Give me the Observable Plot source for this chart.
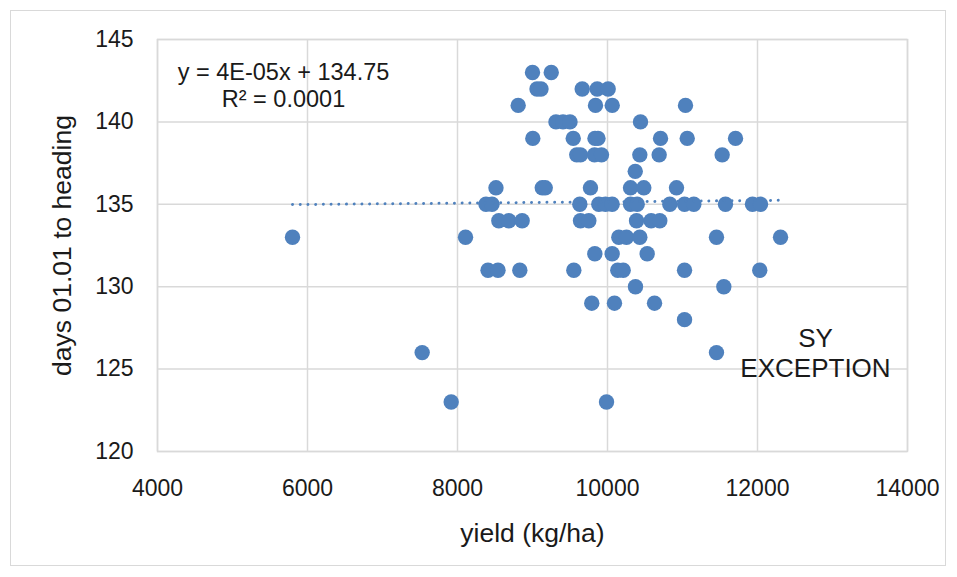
<!DOCTYPE html>
<html>
<head>
<meta charset="utf-8">
<script src="https://cdn.jsdelivr.net/npm/d3@7"></script>
<script src="https://cdn.jsdelivr.net/npm/@observablehq/plot@0.6"></script>
<style>
  html, body { margin: 0; padding: 0; background: #fff; }
  #wrap { position: relative; width: 957px; height: 577px; }
  #border { position: absolute; left: 10px; top: 10px; width: 934px; height: 554px; border: 1.5px solid #d9d9d9; }
  #chart { position: absolute; left: 0; top: 0; }
</style>
</head>
<body>
<div id="wrap"><div id="border"></div><div id="chart"></div></div>
<script>
// yield (kg/ha) and days 01.01 to heading
const yieldKgHa = [
  9000, 9250,
  9060, 9113, 9663, 9863, 10009,
  8809, 9840, 10063, 11040,
  9313, 9407, 9500, 10440,
  9004, 9543, 9833, 9873, 10707, 11063, 11707,
  9590, 9640, 9827, 9920, 10431, 10689, 11529,
  10370,
  8513, 9130, 9170, 9773, 10307, 10484, 10920,
  8380, 8460, 9631, 9884, 9973, 10062, 10307, 10396, 10831, 11027, 11151, 11573, 11933, 12040,
  8551, 8684, 8862, 9640, 9751, 10387, 10582, 10697,
  5800, 8107, 10151, 10253, 10431, 11453, 12307,
  9831, 10062, 10529,
  8407, 8540, 8831, 9551, 10137, 10209, 11027, 12030,
  10373, 11551,
  9790, 10093, 10627,
  11027,
  7529, 11453,
  7916, 9987
];
const daysToHeading = [
  143, 143,
  142, 142, 142, 142, 142,
  141, 141, 141, 141,
  140, 140, 140, 140,
  139, 139, 139, 139, 139, 139, 139,
  138, 138, 138, 138, 138, 138, 138,
  137,
  136, 136, 136, 136, 136, 136, 136,
  135, 135, 135, 135, 135, 135, 135, 135, 135, 135, 135, 135, 135, 135,
  134, 134, 134, 134, 134, 134, 134, 134,
  133, 133, 133, 133, 133, 133, 133,
  132, 132, 132,
  131, 131, 131, 131, 131, 131, 131, 131,
  130, 130,
  129, 129, 129,
  128,
  126, 126,
  123, 123
];
const xTicks = [4000, 6000, 8000, 10000, 12000, 14000];
const yTicks = [120, 125, 130, 135, 140, 145];
const trendSlope = 4e-5;
const trendIntercept = 134.75;
const equationLines = ["y = 4E-05x + 134.75", "R² = 0.0001"];
const equationX = [5680, 5680];
const equationY = [142.98, 141.36];
const noteLines = ["SY", "EXCEPTION"];
const noteX = [12773, 12773];
const noteY = [126.86, 125.04];
const xLabel = "yield (kg/ha)";
const yLabel = "days 01.01 to heading";

const points = yieldKgHa.map((x, i) => ({x, y: daysToHeading[i]}));
const xMin = d3.min(yieldKgHa), xMax = d3.max(yieldKgHa);
const trend = [xMin, xMax].map(x => ({x, y: trendSlope * x + trendIntercept}));
const eq = equationLines.map((t, i) => ({t, x: equationX[i], y: equationY[i]}));
const notes = noteLines.map((t, i) => ({t, x: noteX[i], y: noteY[i]}));

const grid = "#d9d9d9";
const blue = "#4f81bd";
const ink = "#1a1a1a";

const chart = Plot.plot({
  width: 957,
  height: 577,
  marginLeft: 157,
  marginRight: 50,
  marginTop: 39,
  marginBottom: 126,
  style: {fontFamily: "'Liberation Sans', Arial, sans-serif", fontSize: "23px", color: ink, background: "transparent", overflow: "visible"},
  x: {domain: [4000, 14000]},
  y: {domain: [120, 145]},
  marks: [
    Plot.gridX(xTicks, {stroke: grid, strokeOpacity: 1, strokeWidth: 1.5}),
    Plot.gridY(yTicks, {stroke: grid, strokeOpacity: 1, strokeWidth: 1.5}),
    Plot.frame({stroke: grid, strokeWidth: 1.5}),
    Plot.axisX(xTicks, {tickSize: 0, tickPadding: 28, label: null, tickFormat: d => String(d), fill: ink, fontSize: 23}),
    Plot.axisY(yTicks, {tickSize: 0, tickPadding: 24, label: null, tickFormat: d => String(d), fill: ink, fontSize: 23}),
    Plot.dot(points, {x: "x", y: "y", r: 7.7, fill: blue, stroke: "none"}),
    Plot.line(trend, {x: "x", y: "y", stroke: blue, strokeWidth: 3, strokeDasharray: "0.01 7.7", strokeLinecap: "round"}),
    Plot.text(eq, {x: "x", y: "y", text: "t", fill: ink, fontSize: 23.5, textAnchor: "middle"}),
    Plot.text(notes, {x: "x", y: "y", text: "t", fill: ink, fontSize: 26, textAnchor: "middle"}),
    Plot.text([xLabel], {text: d => d, frameAnchor: "bottom", dy: 90, fill: ink, fontSize: 26.5, textAnchor: "middle"}),
    Plot.text([yLabel], {text: d => d, frameAnchor: "left", dx: -95, rotate: -90, fill: ink, fontSize: 26.5, textAnchor: "middle"})
  ]
});
document.getElementById("chart").appendChild(chart);
</script>
</body>
</html>
